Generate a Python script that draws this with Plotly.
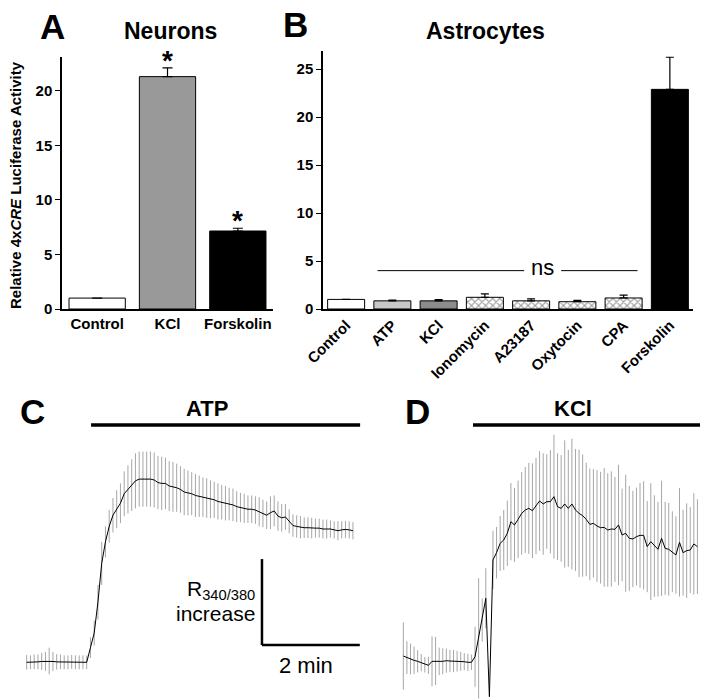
import plotly.graph_objects as go

# ---------------- data ----------------
neuron_cats = ["Control", "KCl", "Forskolin"]
neuron_vals = [1.0, 21.3, 7.15]
neuron_errs = [0.0, 0.8, 0.25]
neuron_sig = [False, True, True]

astro_cats = ["Control", "ATP", "KCl", "Ionomycin", "A23187", "Oxytocin", "CPA", "Forskolin"]
astro_vals = [1.0, 0.85, 0.85, 1.22, 0.85, 0.76, 1.15, 22.9]
astro_errs = [0.0, 0.08, 0.12, 0.35, 0.2, 0.13, 0.3, 3.35]

# Ca2+ imaging traces (R340/380 increase, arbitrary units; scale bar = 10 units)
atp_mean = [0.0, 0.0, 0.05, 0.05, 0.1, 0.1, 0.15, 0.1, 0.05, 0.05, 0.0, 0.0, 0.05, 0.0, 0.0, 0.0, 0.0,
            1.7, 3.4, 7.0, 11.5, 14.0, 15.8, 17.1, 17.8, 18.5, 19.6, 20.1, 20.6, 21.1, 21.3, 21.3, 21.3,
            21.3, 21.2, 20.9, 20.8, 20.8, 20.5, 20.4, 20.3, 20.1, 19.8,
            19.7, 19.6, 19.4, 19.3, 19.2, 19.1, 18.95, 18.9, 18.7, 18.6, 18.5, 18.4, 18.3, 18.1, 18.0,
            17.9, 17.8, 17.8, 17.7, 17.5, 17.3, 17.1, 17.4, 17.6, 17.0, 16.8, 16.9, 16.4, 15.9, 15.8,
            15.7, 15.65, 15.65, 15.6, 15.6, 15.6, 15.5, 15.5, 15.5, 15.4, 15.3, 15.4, 15.45, 15.4, 15.3]
atp_sem = [0.85, 0.8, 0.85, 0.85, 1.0, 1.1, 1.55, 1.1, 0.9, 0.85, 0.8, 0.8, 0.8, 0.8, 0.8, 0.8, 0.8,
           1.2, 1.45, 2.0, 2.5, 1.8, 1.9, 2.0, 2.2, 2.3,
           2.6, 2.8, 3.0, 3.2, 3.2, 3.2, 3.2, 3.2, 3.2, 3.1, 3.1, 3.0, 2.9, 2.9, 2.8, 2.7, 2.7,
           2.6, 2.5, 2.5, 2.4, 2.3, 2.3, 2.2, 2.1, 2.1, 2.0, 2.0, 1.9, 1.9, 1.8, 1.7, 1.7, 1.6, 1.6,
           1.6, 1.7, 1.6, 1.6, 1.9, 1.8, 1.7, 1.6, 1.5, 1.4, 1.3, 1.3, 1.3, 1.2, 1.2, 1.2, 1.1, 1.1,
           1.1, 1.1, 1.0, 1.0, 1.1, 1.0, 1.0, 1.0, 1.0]

kcl_mean = [0.73, 0.54, 0.38, 0.23, 0.11, -0.04, -0.28, -0.35, 0.11, 0.15, 0.11, 0.11, 0.19, 0.15,
            0.15, 0.11, 0.11, 0.07, 0.0, 0.0,
            0.65, 2.79, 4.92, 7.44, -4.0,
            11.9, 12.75, 13.83, 14.22, 15.0, 16.35, 15.97, 16.62, 17.32, 17.71, 17.9, 17.63, 18.17,
            18.76, 18.41, 18.68,
            18.68, 19.26, 18.1, 17.9, 18.41, 17.9, 18.41, 17.71, 17.32, 17.05, 16.62, 16.04, 16.16,
            15.85, 15.65, 15.69, 15.38, 15.5, 15.46, 15.97, 14.8, 15.0, 14.41, 14.34, 14.61, 14.76,
            14.76, 13.45, 14.03, 13.52, 13.14, 14.41, 13.25, 13.14, 12.86, 12.48, 13.95, 12.75,
            12.98, 13.06, 13.76, 13.45]
kcl_sem = [3.9, 1.9, 1.8, 1.6, 1.3, 1.0, 0.9, 1.0, 2.9, 2.8, 1.6, 1.5, 1.4, 1.3, 1.3, 1.2, 1.1, 1.0,
           1.0, 0.9,
           3.5, 7.0, 2.5, 3.5, 0.0,
           3.4, 3.0, 3.2, 3.5, 3.8, 4.5, 4.3, 4.5, 4.8, 5.0, 5.3, 5.5, 5.6, 5.8, 5.9, 5.5,
           6.0, 7.2, 6.2, 6.2, 7.4, 6.8, 7.6, 7.1, 7.4, 7.1, 6.6, 6.5, 6.3, 6.5, 6.5, 6.9, 6.6, 6.7,
           6.1, 7.0, 5.4, 6.8, 6.1, 5.6, 5.7, 6.1, 6.3, 5.3, 6.8, 5.9, 5.5, 6.7, 5.4, 5.4, 4.7, 4.5,
           6.3, 5.0, 5.5, 5.0, 5.9, 5.5]

DT_ATP = 4.6      # s per frame
DT_KCL = 4.4      # s per frame
ATP_ON, ATP_OFF = 79.0, 409.0    # s
KCL_ON, KCL_OFF = 85.5, 364.0    # s
SCALE_T = 120.0   # 2 min
SCALE_Y = 10.0    # units of R340/380 increase
NS_Y = 4.0

# ---------------- layout helpers ----------------
W, H = 706, 699
FONT = "Liberation Sans, Arial, sans-serif"


def fx(p):
    return p / W


def fy(p):
    return 1 - p / H


PPS = 3.75 / DT_ATP          # pixels per second in traces
C_X0, D_X0 = 26.7, 403.3     # pixel of first sample
Y0_PX, PPU = 662.3, 8.6      # baseline pixel, pixels per unit

t_atp = [i * DT_ATP for i in range(len(atp_mean))]
t_kcl = [i * DT_KCL for i in range(len(kcl_mean))]

fig = go.Figure()

# Panel A bars
fig.add_trace(go.Bar(
    x=neuron_cats, y=neuron_vals, xaxis="x", yaxis="y", width=0.8,
    marker=dict(color=["white", "#999999", "black"], line=dict(color="black", width=1)),
    error_y=dict(type="data", array=neuron_errs, arrayminus=[0] * 3, color="black",
                 thickness=1.2, width=5),
    showlegend=False))

# Panel B bars
b_colors = ["white", "#c8c8c8", "#8c8c8c", "white", "white", "white", "white", "black"]
b_shapes = ["", "", "", "x", "x", "x", "x", ""]
fig.add_trace(go.Bar(
    x=astro_cats, y=astro_vals, xaxis="x2", yaxis="y2", width=0.8,
    marker=dict(color=b_colors, line=dict(color="black", width=1),
                pattern=dict(shape=b_shapes, fgcolor="black", bgcolor=b_colors,
                             size=5, solidity=0.4)),
    error_y=dict(type="data", array=astro_errs, arrayminus=[0] * 8, color="black",
                 thickness=1.2, width=4),
    showlegend=False))

# Panel C trace
fig.add_trace(go.Scatter(
    x=t_atp, y=atp_mean, xaxis="x3", yaxis="y3", mode="markers",
    marker=dict(size=1, color="rgba(0,0,0,0)"),
    error_y=dict(type="data", array=atp_sem, color="#a6a6a6", thickness=1, width=0),
    showlegend=False, hoverinfo="skip"))
fig.add_trace(go.Scatter(
    x=t_atp, y=atp_mean, xaxis="x3", yaxis="y3", mode="lines",
    line=dict(color="black", width=1), showlegend=False))

# Panel D trace
fig.add_trace(go.Scatter(
    x=t_kcl, y=kcl_mean, xaxis="x4", yaxis="y4", mode="markers",
    marker=dict(size=1, color="rgba(0,0,0,0)"),
    error_y=dict(type="data", array=kcl_sem, color="#a6a6a6", thickness=1, width=0),
    showlegend=False, hoverinfo="skip"))
fig.add_trace(go.Scatter(
    x=t_kcl, y=kcl_mean, xaxis="x4", yaxis="y4", mode="lines",
    line=dict(color="black", width=1), showlegend=False))

tickfont = dict(family=FONT, size=15, color="black", weight="bold")
bar_axis_common = dict(showline=True, linecolor="black", linewidth=1.5, showgrid=False,
                       zeroline=False, tickfont=tickfont, automargin=False)

hidden = dict(visible=False, showgrid=False, zeroline=False, automargin=False)

fig.update_layout(
    width=W, height=H, margin=dict(l=0, r=0, t=0, b=0, pad=0, autoexpand=False),
    showlegend=False,
    paper_bgcolor="white", plot_bgcolor="rgba(0,0,0,0)",
    font=dict(family=FONT, color="black"),
    bargap=0.2,
    xaxis=dict(domain=[fx(62), fx(273)], range=[-0.5, 2.5], ticks="", anchor="y",
               **bar_axis_common),
    yaxis=dict(domain=[fy(309), fy(57)], range=[0, 23.1], tickvals=[0, 5, 10, 15, 20],
               ticks="outside", ticklen=5, tickwidth=1.2, tickcolor="black", anchor="x",
               **bar_axis_common),
    xaxis2=dict(domain=[fx(323), fx(693)], range=[-0.5, 7.5], ticks="", tickangle=-45,
                anchor="y2", **bar_axis_common),
    yaxis2=dict(domain=[fy(309), fy(51)], range=[0, 26.9], tickvals=[0, 5, 10, 15, 20, 25],
                ticks="outside", ticklen=5, tickwidth=1.2, tickcolor="black", anchor="x2",
                **bar_axis_common),
    xaxis3=dict(domain=[0, fx(378)], range=[(0 - C_X0) / PPS, (378 - C_X0) / PPS],
                anchor="y3", **hidden),
    yaxis3=dict(domain=[0, fy(430)], range=[(Y0_PX - 699) / PPU, (Y0_PX - 430) / PPU],
                anchor="x3", **hidden),
    xaxis4=dict(domain=[fx(380), 1], range=[(380 - D_X0) / PPS, (706 - D_X0) / PPS],
                anchor="y4", **hidden),
    yaxis4=dict(domain=[0, fy(430)], range=[(Y0_PX - 699) / PPU, (Y0_PX - 430) / PPU],
                anchor="x4", **hidden),
)

shapes = []
# stimulus bars
shapes.append(dict(type="line", xref="x3", yref="paper", x0=ATP_ON, x1=ATP_OFF,
                   y0=fy(425), y1=fy(425), line=dict(color="black", width=3.5)))
shapes.append(dict(type="line", xref="x4", yref="paper", x0=KCL_ON, x1=KCL_OFF,
                   y0=fy(425), y1=fy(425), line=dict(color="black", width=3.5)))
# scale bar
SB_T = 288.6
SB_Y = 2.0
shapes.append(dict(type="line", xref="x3", yref="y3", x0=SB_T, x1=SB_T,
                   y0=SB_Y, y1=SB_Y + SCALE_Y, line=dict(color="black", width=2.5)))
shapes.append(dict(type="line", xref="x3", yref="y3", x0=SB_T, x1=SB_T + SCALE_T,
                   y0=SB_Y, y1=SB_Y, line=dict(color="black", width=2.5)))
# ns line (ATP ... CPA)
shapes.append(dict(type="line", xref="x2", yref="y2", x0=1 - 0.32, x1=3.85,
                   y0=NS_Y, y1=NS_Y, line=dict(color="black", width=1)))
shapes.append(dict(type="line", xref="x2", yref="y2", x0=4.65, x1=6 + 0.3,
                   y0=NS_Y, y1=NS_Y, line=dict(color="black", width=1)))
fig.update_layout(shapes=shapes)

ann = []


def txt(x, y, text, size, bold=True, xanchor="center", yanchor="middle", **kw):
    d = dict(x=x, y=y, xref="paper", yref="paper", text=text, showarrow=False,
             xanchor=xanchor, yanchor=yanchor,
             font=dict(family=FONT, size=size, color="black", weight="bold" if bold else "normal"))
    d.update(kw)
    ann.append(d)


txt(fx(52), fy(26), "A", 35)
txt(fx(295), fy(25), "B", 35)
txt(fx(32), fy(412), "C", 35)
txt(fx(417), fy(412), "D", 35)
txt(fx(170), fy(31), "Neurons", 23)
txt(fx(485), fy(31), "Astrocytes", 23)
txt(fx(15), fy(185), "Relative 4x<i>CRE</i> Luciferase Activity", 15, textangle=-90)
txt(fx(207), fy(408), "ATP", 22)
txt(fx(573), fy(408), "KCl", 22)
txt(fx(257), fy(590), "R<sub>340/380</sub>", 21, bold=False, xanchor="right")
txt(fx(257), fy(613), "increase", 21, bold=False, xanchor="right")
txt(fx(306), fy(665), "2 min", 22, bold=False)

# ns label
ann.append(dict(x=4.25, y=NS_Y, xref="x2", yref="y2", text="ns", showarrow=False,
                font=dict(family=FONT, size=22, color="black"), yshift=3))
# asterisks
for c, v, e, s in zip(neuron_cats, neuron_vals, neuron_errs, neuron_sig):
    if s:
        ann.append(dict(x=c, y=v + e, xref="x", yref="y", text="*", showarrow=False,
                        yanchor="bottom", yshift=-10,
                        font=dict(family=FONT, size=28, color="black", weight="bold")))
fig.update_layout(annotations=ann)

fig.write_html("out.html",
               config={"displayModeBar": False},
               post_script="document.body.style.margin='0';document.body.style.padding='0';")
